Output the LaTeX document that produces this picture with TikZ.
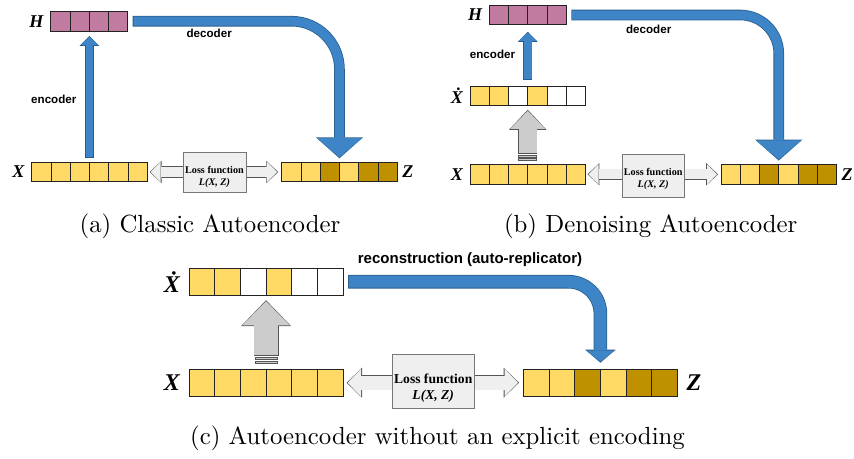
\documentclass[tikz,border=0pt]{standalone}
\usepackage{fontspec}
\newfontfamily\timesfont{Liberation Serif}
\newfontfamily\arialfont{Liberation Sans}
\usetikzlibrary{positioning,calc,arrows.meta}

\definecolor{cellyellow}{HTML}{FFD966}
\definecolor{cellgold}{HTML}{BF9000}
\definecolor{cellpink}{HTML}{C27BA0}
\definecolor{celledge}{HTML}{222222}
\definecolor{bluefill}{HTML}{3D85C6}
\definecolor{blueedge}{HTML}{2A5D8C}
\definecolor{grayfill}{HTML}{CCCCCC}
\definecolor{grayedge}{HTML}{555555}
\definecolor{lossfill}{HTML}{EFEFEF}
\definecolor{lossedge}{HTML}{777777}

\tikzset{
  cellsmall/.style={draw=celledge, line width=0.9pt, minimum width=19.25pt, minimum height=19.5pt, inner sep=0pt, outer sep=0pt},
  cellbig/.style={draw=celledge, line width=1pt, minimum width=25.7pt, minimum height=27pt, inner sep=0pt, outer sep=0pt},
  varsmall/.style={font=\timesfont\bfseries\itshape\fontsize{18}{18}\selectfont, inner sep=0pt},
  varbig/.style={font=\timesfont\bfseries\itshape\fontsize{24}{24}\selectfont, inner sep=0pt},
  armtext/.style={font=\arialfont\bfseries\fontsize{11.6}{12}\selectfont, inner sep=0pt},
  recontext/.style={font=\arialfont\bfseries\fontsize{15}{16}\selectfont, inner sep=0pt},
  losstextsmall/.style={font=\timesfont\bfseries\fontsize{10.2}{12.3}\selectfont, align=center, inner sep=0pt},
  losstextbig/.style={font=\timesfont\bfseries\fontsize{13.6}{16.7}\selectfont, align=center, inner sep=0pt},
  lossbox/.style={draw=lossedge, fill=lossfill, line width=0.8pt, inner sep=0pt},
  stripe/.style={draw=grayedge, fill=grayfill, line width=0.6pt},
  % block arrows: dark outline first, fill on top
  encarrow/.style={draw=blueedge, line width=9.1pt, -{Triangle[width=19.9pt,length=10pt,line width=0pt]},
    postaction={draw=bluefill, line width=7.5pt, -{Triangle[width=17.5pt,length=8pt,line width=0pt]}, shorten >=1.1pt, shorten <=0.8pt}},
  decarrow/.style={draw=blueedge, line width=10.6pt, -{Triangle[width=47.4pt,length=21pt,line width=0pt]},
    postaction={draw=bluefill, line width=9pt, -{Triangle[width=45pt,length=19pt,line width=0pt]}, shorten >=1.1pt, shorten <=0.8pt}},
  decarrowbig/.style={draw=blueedge, line width=13.6pt, -{Triangle[width=30.4pt,length=13pt,line width=0pt]},
    postaction={draw=bluefill, line width=12pt, -{Triangle[width=28pt,length=11pt,line width=0pt]}, shorten >=1.1pt, shorten <=0.8pt}},
  noisearrow/.style={draw=grayedge, line width=19.4pt, -{Triangle[width=37.4pt,length=20pt,line width=0pt]},
    postaction={draw=grayfill, line width=18pt, -{Triangle[width=35pt,length=18pt,line width=0pt]}, shorten >=1.1pt, shorten <=0.8pt}},
  noisearrowbig/.style={draw=grayedge, line width=24.8pt, -{Triangle[width=50.1pt,length=26pt,line width=0pt]},
    postaction={draw=grayfill, line width=23.4pt, -{Triangle[width=47.7pt,length=24pt,line width=0pt]}, shorten >=1.1pt, shorten <=0.8pt}},
  lossarrow/.style={draw=grayedge, line width=11.4pt, {Triangle[width=22.2pt,length=11.8pt,line width=0pt]}-{Triangle[width=22.2pt,length=11.8pt,line width=0pt]},
    postaction={draw=lossfill, line width=10pt, {Triangle[width=20pt,length=10pt,line width=0pt]}-{Triangle[width=20pt,length=10pt,line width=0pt]}, shorten >=1pt, shorten <=1pt}},
  lossarrowbig/.style={draw=grayedge, line width=15.4pt, {Triangle[width=30pt,length=15.4pt,line width=0pt]}-{Triangle[width=30pt,length=15.4pt,line width=0pt]},
    postaction={draw=lossfill, line width=14pt, {Triangle[width=27.7pt,length=13.5pt,line width=0pt]}-{Triangle[width=27.7pt,length=13.5pt,line width=0pt]}, shorten >=1pt, shorten <=1pt}}
}

\begin{document}
\begin{tikzpicture}[x=1pt,y=-1pt]
  \useasboundingbox (0,0) rectangle (854,458);

  % (a) classic autoencoder
  \foreach \col [count=\i] in {cellpink,cellpink,cellpink,cellpink}
    \node[cellsmall, fill=\col] (ha\i) at (41.075+\i*19.25, 21.2) {};
  \foreach \col [count=\i] in {cellyellow,cellyellow,cellyellow,cellyellow,cellyellow,cellyellow}
    \node[cellsmall, fill=\col] (xa\i) at (22.075+\i*19.25, 172) {};
  \foreach \col [count=\i] in {cellyellow,cellyellow,cellgold,cellyellow,cellgold,cellgold}
    \node[cellsmall, fill=\col] (za\i) at (272.075+\i*19.25, 172) {};
  \node[varsmall, left=7pt of ha1] (hla) {H};
  \node[varsmall, left=7pt of xa1] (xla) {X};
  \node[varsmall, right=5pt of za6] (zla) {Z};

  \coordinate (enca-s) at ([yshift=4pt]xa3.north east);
  \coordinate (enca-e) at ($(enca-s |- ha2.south)+(0,5)$);
  \draw[encarrow] (enca-s) -- (enca-e);
  \node[armtext] (enctxta) at (53.8,99) {encoder};

  \coordinate (deca-s) at ([xshift=5pt]ha4.east);
  \coordinate (deca-e) at ([yshift=4pt]za3.north east);
  \draw[decarrow, rounded corners=48pt] (deca-s) -- (deca-s -| deca-e) -- (deca-e);
  \node[armtext] (dectxta) at (209.2,33.3) {decoder};

  \coordinate (lossa-l) at ([xshift=2.5pt]xa6.east);
  \coordinate (lossa-r) at ([xshift=-3.5pt]za1.west);
  \draw[lossarrow] (lossa-l) -- (lossa-r);
  \node[lossbox, minimum width=63pt, minimum height=40pt] (boxa) at ($(xa6.east)!0.5!(za1.west)$) {};
  \node[losstextsmall] (losstxta) at ($(boxa.center)+(0,5)$) {Loss function\\\itshape L(X, Z)};

  \node (capa) at (210,226.7) {\scalebox{2.48}{(a) Classic Autoencoder}};

  % (b) denoising autoencoder
  \foreach \col [count=\i] in {cellpink,cellpink,cellpink,cellpink}
    \node[cellsmall, fill=\col] (hb\i) at (479.675+\i*19.25, 15) {};
  \foreach \col [count=\i] in {cellyellow,cellyellow,white,cellyellow,white,white}
    \node[cellsmall, fill=\col] (xdb\i) at (460.375+\i*19.25, 96) {};
  \foreach \col [count=\i] in {cellyellow,cellyellow,cellyellow,cellyellow,cellyellow,cellyellow}
    \node[cellsmall, fill=\col] (xb\i) at (460.375+\i*19.25, 174.3) {};
  \foreach \col [count=\i] in {cellyellow,cellyellow,cellgold,cellyellow,cellgold,cellgold}
    \node[cellsmall, fill=\col] (zb\i) at (711.375+\i*19.25, 174.3) {};
  \node[varsmall, left=7pt of hb1] (hlb) {H};
  \node[varsmall, left=7pt of xdb1] (xdlb) {Ẋ};
  \node[varsmall, left=7pt of xb1] (xlb) {X};
  \node[varsmall, right=5pt of zb6] (zlb) {Z};

  \coordinate (noiseb-s) at ([yshift=10.5pt]xb3.north east);
  \coordinate (noiseb-e) at ($(noiseb-s |- xdb3.south)+(0,4)$);
  \draw[noisearrow] (noiseb-s) -- (noiseb-e);
  \filldraw[stripe] ($(noiseb-s)+(-9,1.2)$) rectangle ($(noiseb-s)+(9,3.2)$);
  \filldraw[stripe] ($(noiseb-s)+(-9,4.4)$) rectangle ($(noiseb-s)+(9,6.4)$);

  \coordinate (encb-s) at ([yshift=6pt]xdb3.north east);
  \coordinate (encb-e) at ($(encb-s |- hb2.south)+(0,7)$);
  \draw[encarrow] (encb-s) -- (encb-e);
  \node[armtext] (enctxtb) at (492.5,54.3) {encoder};

  \coordinate (decb-s) at ([xshift=5pt]hb4.east);
  \coordinate (decb-e) at ([yshift=4pt]zb3.north east);
  \draw[decarrow, rounded corners=38.5pt] (decb-s) -- (decb-s -| decb-e) -- (decb-e);
  \node[armtext] (dectxtb) at (648.7,29) {decoder};

  \coordinate (lossb-l) at ([xshift=2pt]xb6.east);
  \coordinate (lossb-r) at ([xshift=-3pt]zb1.west);
  \draw[lossarrow] (lossb-l) -- (lossb-r);
  \node[lossbox, minimum width=62.3pt, minimum height=43pt] (boxb) at ($(xb6.east)!0.5!(zb1.west)+(0,1.2)$) {};
  \node[losstextsmall] (losstxtb) at ($(boxb.center)+(0,3.5)$) {Loss function\\\itshape L(X, Z)};

  \node (capb) at (650.7,226.7) {\scalebox{2.48}{(b) Denoising Autoencoder}};

  % (c) autoencoder without an explicit encoding
  \foreach \col [count=\i] in {cellyellow,cellyellow,white,cellyellow,white,white}
    \node[cellbig, fill=\col] (xdc\i) at (176.15+\i*25.7, 281.7) {};
  \foreach \col [count=\i] in {cellyellow,cellyellow,cellyellow,cellyellow,cellyellow,cellyellow}
    \node[cellbig, fill=\col] (xc\i) at (176.15+\i*25.7, 382.7) {};
  \foreach \col [count=\i] in {cellyellow,cellyellow,cellgold,cellyellow,cellgold,cellgold}
    \node[cellbig, fill=\col] (zc\i) at (510.45+\i*25.7, 382.7) {};
  \node[varbig, left=9pt of xdc1] (xdlc) {Ẋ};
  \node[varbig, left=9pt of xc1] (xlc) {X};
  \node[varbig, right=9pt of zc6] (zlc) {Z};

  \coordinate (noisec-s) at ([yshift=13.5pt]xc3.north east);
  \coordinate (noisec-e) at ($(noisec-s |- xdc3.south)+(0,5)$);
  \draw[noisearrowbig] (noisec-s) -- (noisec-e);
  \filldraw[stripe] ($(noisec-s)+(-11.3,1.5)$) rectangle ($(noisec-s)+(11.3,3.9)$);
  \filldraw[stripe] ($(noisec-s)+(-11.3,5.1)$) rectangle ($(noisec-s)+(11.3,7.5)$);

  \coordinate (decc-s) at ([xshift=5pt]xdc6.east);
  \coordinate (decc-e) at ([yshift=6.5pt]zc3.north east);
  \draw[decarrowbig, rounded corners=32pt] (decc-s) -- (decc-s -| decc-e) -- (decc-e);
  \node[recontext] (rectxt) at (470,260) {reconstruction (auto-replicator)};

  \coordinate (lossc-l) at ([xshift=3.4pt]xc6.east);
  \coordinate (lossc-r) at ([xshift=-4.3pt]zc1.west);
  \draw[lossarrowbig] (lossc-l) -- (lossc-r);
  \node[lossbox, minimum width=81.6pt, minimum height=54pt] (boxc) at ($(xc6.east)!0.5!(zc1.west)+(0,-1.4)$) {};
  \node[losstextbig] (losstxtc) at ($(boxc.center)+(0,7)$) {Loss function\\\itshape L(X, Z)};

  \node (capc) at (437.5,438) {\scalebox{2.48}{(c) Autoencoder without an explicit encoding}};
\end{tikzpicture}
\end{document}
